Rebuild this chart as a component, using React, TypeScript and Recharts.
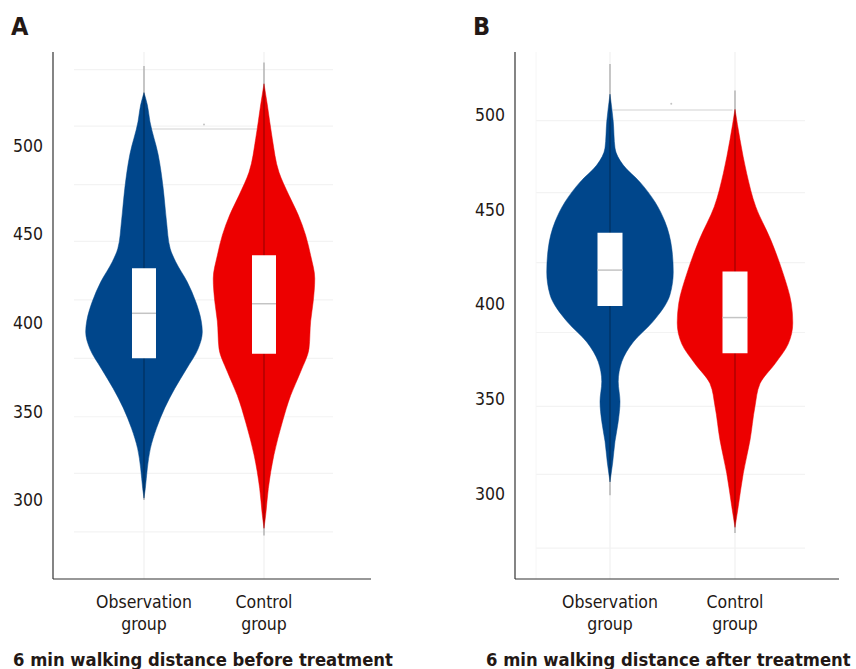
import { ComposedChart, Area, XAxis, YAxis, ReferenceLine, ReferenceArea, ReferenceDot } from "recharts";

const groups = ["Observation group", "Control group"];
const distanceTicks = [300, 350, 400, 450, 500];

// violin outlines: [distance (m), half width in category units]
const beforeObservation: [number, number][] = [
  [301, 0], [306.5, 0.011], [318, 0.028], [329, 0.053], [340.5, 0.104], [352, 0.173], [363, 0.257],
  [374, 0.354], [385.5, 0.452], [395, 0.486], [401, 0.477], [412, 0.431], [423, 0.361], [434.5, 0.264],
  [442, 0.218], [457, 0.188], [476, 0.16], [495, 0.118], [513.5, 0.05], [523, 0.028], [530, 0],
];
const beforeControl: [number, number][] = [
  [284, 0], [291.5, 0.014], [306.5, 0.036], [325.5, 0.083], [344, 0.153], [359, 0.222], [372.5, 0.306],
  [385.5, 0.375], [401, 0.389], [412, 0.41], [425, 0.423], [438, 0.389], [449.5, 0.347], [461, 0.285],
  [472, 0.208], [485, 0.125], [504, 0.069], [523, 0.028], [535, 0],
];
const afterObservation: [number, number][] = [
  [306, 0], [316.5, 0.022], [327.5, 0.04], [338, 0.066], [348.5, 0.08], [359, 0.066], [369.5, 0.094],
  [380, 0.186], [390.5, 0.34], [405, 0.48], [417, 0.506], [429.5, 0.494], [443.5, 0.44], [454, 0.36],
  [464.5, 0.24], [473.5, 0.106], [482.5, 0.04], [496.5, 0.026], [511, 0],
];
const afterControl: [number, number][] = [
  [282, 0], [293, 0.026], [310.5, 0.066], [328, 0.12], [346, 0.16], [358, 0.2], [368.5, 0.32],
  [379, 0.426], [390, 0.462], [400.5, 0.45], [416, 0.386], [434, 0.286], [451.5, 0.166], [469, 0.094],
  [487, 0.04], [503, 0],
];

// [Q1, median, Q3] per group
const beforeQuartiles = [[380, 405.4, 430.8], [382.6, 410.8, 438.1]];
const afterQuartiles = [[399, 418, 437.8], [374, 392.9, 417.2]];

// [min, max] whisker per group
const beforeTails = [[300, 545], [280, 547]];
const afterTails = [[299, 527], [279, 513]];

// faint background rules
const beforeGridlines = [282, 315, 347, 380, 413, 446, 478, 511, 543];
const afterGridlines = [271, 310, 346, 385, 422, 459, 497];

// comparison bar between the groups: [from, to, level, dot x, dot level]
const beforeBracket = [1.05, 1.95, 509.4, 1.5, 512];
const afterBracket = [1.02, 1.98, 502.6, 1.49, 506];

const COLORS = ["#00468B", "#ED0000"];
const INK = "#231815";
const FONT = '"DejaVu Sans Condensed", "DejaVu Sans", sans-serif';
const BOX_HALF = 0.1;

type Row = { d: number; [key: string]: number | (number | null)[] };

function buildRows(outlines: [number, number][][]): Row[] {
  const levels = Array.from(new Set(outlines.flatMap((o) => o.map(([d]) => d)))).sort((a, b) => a - b);
  return levels.map((d) => {
    const row: Row = { d };
    outlines.forEach((outline, i) => {
      const hit = outline.find(([v]) => v === d);
      row[`g${i}`] = hit ? [i + 1 - hit[1], i + 1 + hit[1]] : [null, null];
    });
    return row;
  });
}

function GroupTick({ x, y, payload }: any) {
  const [first, second] = groups[payload.value - 1].split(" ");
  return (
    <text x={x} y={y} textAnchor="middle" fill={INK} fontSize={17.5} fontFamily={FONT}>
      <tspan x={x} dy={29}>{first}</tspan>
      <tspan x={x} dy={22}>{second}</tspan>
    </text>
  );
}

type PanelProps = {
  left: number;
  width: number;
  marginLeft: number;
  marginRight: number;
  xDomain: [number, number];
  yDomain: [number, number];
  outlines: [number, number][][];
  quartiles: number[][];
  tails: number[][];
  gridlines: number[];
  gridSpan: [number, number];
  gridEdge: boolean;
  bracket: number[];
  letter: string;
  letterX: number;
  title: string;
  titleX: number;
};

function ViolinPanel(p: PanelProps) {
  const rows = buildRows(p.outlines);
  return (
    <>
      <div style={{ position: "absolute", left: p.left, top: 0 }}>
        <ComposedChart
          width={p.width}
          height={669}
          data={rows}
          layout="vertical"
          margin={{ top: 52, right: p.marginRight, bottom: 30, left: p.marginLeft }}
        >
          {p.gridlines.map((v) => (
            <ReferenceLine
              key={`h${v}`}
              segment={[{ x: p.gridSpan[0], y: v }, { x: p.gridSpan[1], y: v }]}
              stroke="#f3f3f3"
              strokeWidth={1.2}
              zIndex={-100}
            />
          ))}
          {p.gridEdge && (
            <ReferenceLine x={p.gridSpan[0]} stroke="#f6f6f6" strokeWidth={1} zIndex={-100} />
          )}
          {[1, 2].map((c) => (
            <ReferenceLine key={`v${c}`} x={c} stroke="#f2f2f2" strokeWidth={1.3} zIndex={-100} />
          ))}
          <ReferenceLine
            segment={[{ x: p.bracket[0], y: p.bracket[2] }, { x: p.bracket[1], y: p.bracket[2] }]}
            stroke="#e0e0e0"
            strokeWidth={1.5}
            zIndex={-90}
          />
          <ReferenceDot x={p.bracket[3]} y={p.bracket[4]} r={1} fill="#c4c4c4" stroke="none" zIndex={-90} />
          <XAxis
            type="number"
            domain={p.xDomain}
            allowDataOverflow
            ticks={[1, 2]}
            tick={<GroupTick />}
            tickLine={false}
            tickSize={0}
            tickMargin={0}
            height={60}
            axisLine={{ stroke: "#333", strokeWidth: 1.2 }}
          />
          <YAxis
            type="number"
            dataKey="d"
            domain={p.yDomain}
            allowDataOverflow
            reversed
            ticks={distanceTicks}
            tickLine={false}
            tickSize={6}
            tickMargin={4}
            width={45}
            axisLine={{ stroke: "#333", strokeWidth: 1.2 }}
            tick={{ fill: INK, fontSize: 17.5, fontFamily: FONT }}
          />
          {p.outlines.map((_, i) => (
            <Area
              key={`a${i}`}
              dataKey={`g${i}`}
              type="monotone"
              fill={COLORS[i]}
              fillOpacity={1}
              stroke={COLORS[i]}
              strokeWidth={0.5}
              connectNulls
              isAnimationActive={false}
              dot={false}
              activeDot={false}
            />
          ))}
          {p.tails.map(([lo, hi], i) => (
            <ReferenceLine
              key={`t${i}`}
              segment={[{ x: i + 1, y: lo }, { x: i + 1, y: hi }]}
              stroke="rgba(0,0,0,0.3)"
              strokeWidth={1.3}
              zIndex={150}
            />
          ))}
          {p.quartiles.map(([q1, , q3], i) => (
            <ReferenceArea
              key={`b${i}`}
              x1={i + 1 - BOX_HALF}
              x2={i + 1 + BOX_HALF}
              y1={q1}
              y2={q3}
              fill="#ffffff"
              fillOpacity={1}
              stroke="none"
              zIndex={200}
            />
          ))}
          {p.quartiles.map(([, med], i) => (
            <ReferenceLine
              key={`m${i}`}
              segment={[{ x: i + 1 - BOX_HALF, y: med }, { x: i + 1 + BOX_HALF, y: med }]}
              stroke="#c4c4c4"
              strokeWidth={1.5}
              zIndex={250}
            />
          ))}
        </ComposedChart>
      </div>
      <div
        style={{
          position: "absolute",
          left: p.letterX,
          top: 13,
          fontSize: 25,
          lineHeight: "28px",
          fontWeight: "bold",
          fontFamily: FONT,
          color: INK,
        }}
      >
        {p.letter}
      </div>
      <div
        style={{
          position: "absolute",
          left: p.titleX,
          top: 650,
          fontSize: 18.3,
          lineHeight: "20px",
          fontWeight: "bold",
          fontFamily: FONT,
          color: INK,
          whiteSpace: "nowrap",
        }}
      >
        {p.title}
      </div>
    </>
  );
}

export default function App() {
  return (
    <div
      style={{
        position: "absolute",
        left: 0,
        top: 0,
        width: 856,
        height: 669,
        background: "#fff",
        overflow: "hidden",
      }}
    >
      <ViolinPanel
        left={0}
        width={430}
        marginLeft={8}
        marginRight={59}
        xDomain={[0.2417, 2.8917]}
        yDomain={[255.4, 552.9]}
        outlines={[beforeObservation, beforeControl]}
        quartiles={beforeQuartiles}
        tails={beforeTails}
        gridlines={beforeGridlines}
        gridSpan={[0.417, 2.575]}
        gridEdge={false}
        bracket={beforeBracket}
        letter="A"
        letterX={11}
        title="6 min walking distance before treatment"
        titleX={13}
      />
      <ViolinPanel
        left={430}
        width={426}
        marginLeft={40}
        marginRight={17}
        xDomain={[0.24, 2.832]}
        yDomain={[254.7, 533.3]}
        outlines={[afterObservation, afterControl]}
        quartiles={afterQuartiles}
        tails={afterTails}
        gridlines={afterGridlines}
        gridSpan={[0.408, 2.56]}
        gridEdge
        bracket={afterBracket}
        letter="B"
        letterX={473}
        title="6 min walking distance after treatment"
        titleX={486}
      />
    </div>
  );
}
